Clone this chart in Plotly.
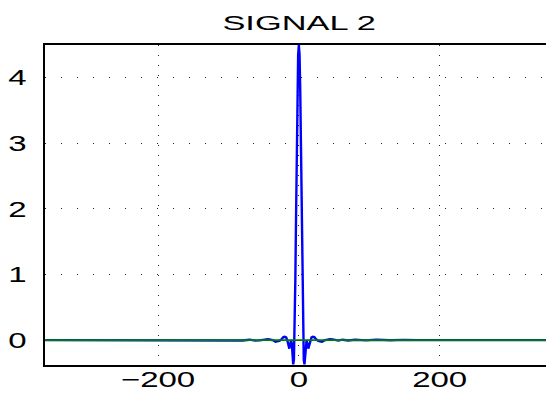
import plotly.graph_objects as go

# Signal 2 samples
sig_x = [-360, -250, -170, -150, -130, -110, -95, -80, -70, -62, -56, -52, -48, -44, -40, -36,
         -33, -30, -27, -24, -22, -20, -18, -16.5, -15, -13.5, -12, -11, -10, -9, -8, -7,
         -6, -5, -4, -3, -2, -1, 0,
         1, 2, 3, 4, 5, 6, 7, 8, 9, 10, 11, 12, 13.5, 15, 16.5, 18, 20, 22, 24, 27, 30,
         33, 36, 40, 44, 48, 52, 56, 62, 70, 80, 95, 110, 130, 150, 170, 250, 360]
sig_y = [0.0, 0.0, 0.003, -0.004, 0.004, -0.005, 0.005, -0.006, 0.006, -0.008, -0.005, 0.004, 0.01, 0.012, 0.005, -0.005,
         -0.025, -0.02, -0.01, 0.02, 0.045, 0.05, 0.04, 0.0, -0.07, -0.13, -0.05, 0.0, -0.05, -0.25, -0.37, -0.3,
         0.15, 0.9, 1.85, 2.9, 3.8, 4.35, 4.5,
         4.35, 3.8, 2.9, 1.85, 0.9, 0.15, -0.3, -0.37, -0.25, -0.05, 0.0, -0.05, -0.13, -0.07, 0.0, 0.04, 0.05, 0.045, 0.02, -0.01, -0.02,
         -0.025, -0.005, 0.005, 0.012, 0.01, -0.005, -0.008, 0.006, -0.006, 0.005, -0.004, 0.004, -0.003, 0.003, 0.0, 0.0, 0.0]

zero_x = [-360, 360]
zero_y = [0, 0]

x_ticks = [-200, 0, 200]
x_labels = ["\u2212200", "0", "200"]
y_ticks = [0, 1, 2, 3, 4]
y_labels = ["0", "1", "2", "3", "4"]

title_text = "SIGNAL 2"

FONT = "Liberation Sans"

fig = go.Figure()
fig.add_trace(go.Scatter(x=sig_x, y=sig_y, mode="lines",
                         line=dict(color="#0000ff", width=2.4), showlegend=False))
fig.add_trace(go.Scatter(x=zero_x, y=zero_y, mode="lines",
                         line=dict(color="#008000", width=1.6), showlegend=False))

fig.update_layout(
    width=546, height=399,
    margin=dict(l=45, r=0, t=45, b=34),
    paper_bgcolor="white", plot_bgcolor="white",
    font=dict(family=FONT, size=22, color="black"),
    title=dict(text=title_text, x=0.548, xref="container", xanchor="center",
               y=1 - 22.6 / 399, yref="container", yanchor="middle",
               font=dict(family=FONT, size=20, color="black")),
)
fig.update_xaxes(range=[-360.5, 351], tickvals=x_ticks, ticktext=x_labels,
                 showgrid=True, gridcolor="#222222", gridwidth=1, griddash="1px,9px",
                 zeroline=False, showline=True, linecolor="black", linewidth=2,
                 mirror=True, ticks="", ticklabelstandoff=-6)
fig.update_yaxes(range=[-0.38, 4.5], tickvals=y_ticks, ticktext=y_labels,
                 showgrid=True, gridcolor="#222222", gridwidth=1, griddash="1px,15px",
                 zeroline=False, showline=True, linecolor="black", linewidth=2,
                 mirror=False, ticks="", ticklabelstandoff=12)

# widen the text horizontally, as in the reference (MATLAB export is stretched)
post = """
var gd = document.getElementById('{plot_id}');
function st(sel, sx, origin) {
  gd.querySelectorAll(sel).forEach(function (g) {
    g.style.transformBox = 'fill-box';
    g.style.transformOrigin = origin;
    g.style.transform = 'scaleX(' + sx + ')';
  });
}
st('g.xtick', 1.5, 'center');
st('g.ytick', 1.5, 'right center');
st('g.g-gtitle', 1.72, 'center');
"""

fig.write_html("out.html", post_script=post)
